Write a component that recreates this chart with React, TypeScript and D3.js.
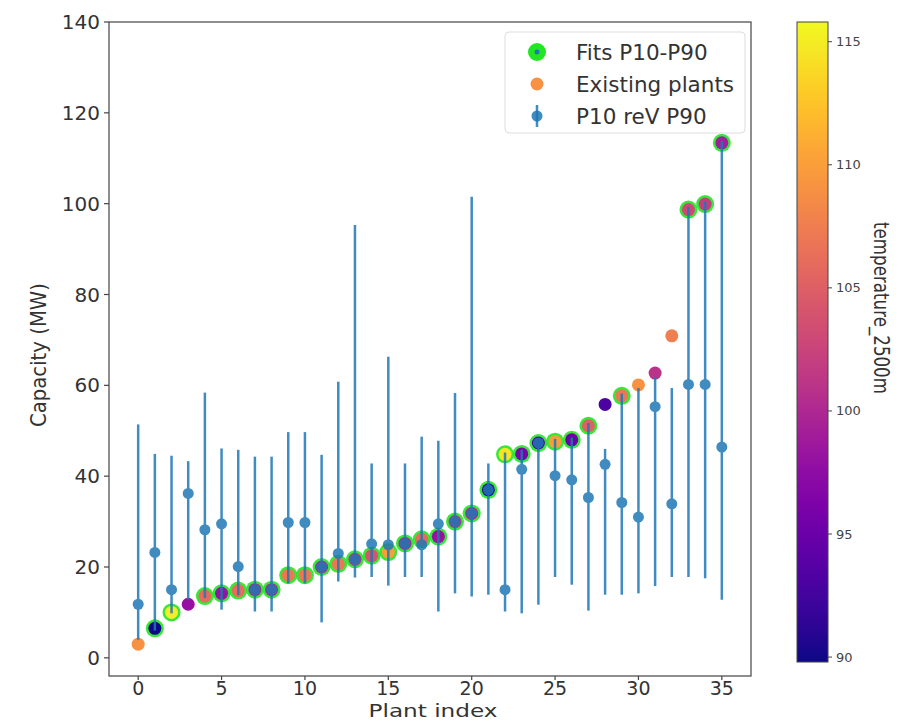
import React from "react";
import * as d3 from "d3";

// plant index 0..35, sorted by existing capacity
const existing = [3.0, 6.5, 10.0, 11.8, 13.6, 14.2, 14.8, 15.0, 15.0, 18.2, 18.2, 20.0, 20.7, 21.7, 22.5, 23.3, 25.2, 26.1, 26.7, 30.0, 31.8, 37.0, 44.8, 44.9, 47.3, 47.6, 48.0, 51.1, 55.8, 57.7, 60.1, 62.7, 70.9, 98.7, 99.9, 113.4];
const median = [11.8, 23.2, 15.0, 36.2, 28.2, 29.5, 20.1, 15.0, 15.0, 29.8, 29.8, 20.0, 23.0, 21.7, 25.1, 24.9, 25.2, 24.9, 29.5, 30.0, 31.8, 37.0, 15.0, 41.5, 47.3, 40.1, 39.2, 35.3, 42.6, 34.2, 31.0, 55.3, 33.9, 60.2, 60.2, 46.4];
const p10 = [4.0, 6.0, 9.8, 12.8, 13.2, 10.6, 13.8, 10.2, 10.2, 16.4, 16.4, 7.8, 16.8, 17.7, 17.8, 15.9, 17.8, 17.8, 10.2, 14.2, 13.5, 13.9, 10.2, 9.8, 11.7, 17.8, 16.1, 10.4, 13.9, 13.9, 14.2, 15.8, 17.8, 17.8, 17.5, 12.8];
const p90 = [51.4, 44.9, 44.5, 43.3, 58.4, 46.1, 45.8, 44.3, 44.3, 49.7, 49.7, 44.7, 60.8, 95.3, 42.8, 66.3, 42.8, 48.7, 47.8, 58.3, 101.5, 42.8, 45.2, 45.8, 48.4, 48.2, 48.5, 51.7, 46.0, 58.2, 59.4, 61.8, 59.4, 99.3, 100.5, 113.8];
const temperature = [109, 90, 115, 98, 106, 98, 106, 100, 100, 107, 107, 100, 107, 101, 104, 110, 100, 106, 98, 101, 100, 91, 114.5, 96, 93, 110, 95, 105, 93, 107, 109, 101, 107.5, 103, 102, 99];

const xTicks = [0, 5, 10, 15, 20, 25, 30, 35];
const yTicks = [0, 20, 40, 60, 80, 100, 120, 140];
const cbTicks = [90, 95, 100, 105, 110, 115];
const legendLabels = ["Fits P10-P90", "Existing plants", "P10 reV P90"];

const W = 912;
const H = 721;
const plot = { left: 109, right: 751, top: 22, bottom: 676 };
const cb = { left: 797, right: 828, top: 22, bottom: 662 };

const blue = "#1f77b4";
const green = "#22e622";
const font = "DejaVu Sans, sans-serif";

const x = d3.scaleLinear().domain([-1.75, 36.75]).range([plot.left, plot.right]);
const y = d3.scaleLinear().domain([-4, 140]).range([plot.bottom, plot.top]);
const cbScale = d3.scaleLinear().domain([89.8, 115.8]).range([cb.bottom, cb.top]);
const color = d3.scaleSequential(d3.interpolatePlasma).domain([89.8, 115.8]);

export default function App() {
  const idx = d3.range(existing.length);
  const fits = idx.filter((i) => existing[i] >= p10[i] && existing[i] <= p90[i]);
  const stops = d3.range(0, 1.0001, 0.05);

  return (
    <svg width={W} height={H} style={{ position: "absolute", left: 0, top: 0, background: "#fff" }} fontFamily={font}>
      <defs>
        <linearGradient id="cbgrad" x1="0" y1="1" x2="0" y2="0">
          {stops.map((t) => (
            <stop key={t} offset={t} stopColor={d3.interpolatePlasma(t)} />
          ))}
        </linearGradient>
      </defs>

      {/* fits P10-P90 */}
      {fits.map((i) => (
        <circle key={"g" + i} cx={x(i)} cy={y(existing[i])} r={9} fill={green} opacity={0.9} />
      ))}
      {/* existing plants */}
      {idx.map((i) => (
        <circle key={"e" + i} cx={x(i)} cy={y(existing[i])} r={6.5} fill={color(temperature[i])} />
      ))}
      {/* error bars */}
      <g opacity={0.85}>
        {idx.map((i) => (
          <g key={"b" + i}>
            <line x1={x(i)} x2={x(i)} y1={y(p10[i])} y2={y(p90[i])} stroke={blue} strokeWidth={2.5} />
            <circle cx={x(i)} cy={y(median[i])} r={5.5} fill={blue} />
          </g>
        ))}
      </g>

      {/* axes frame */}
      <rect x={plot.left} y={plot.top} width={plot.right - plot.left} height={plot.bottom - plot.top} fill="none" stroke="#444" strokeWidth={1.2} />
      {yTicks.map((t) => (
        <g key={"y" + t}>
          <line x1={plot.left - 5} x2={plot.left} y1={y(t)} y2={y(t)} stroke="#444" strokeWidth={1.2} />
          <text x={plot.left - 9} y={y(t)} dy="0.35em" textAnchor="end" fontSize={20} fill="#333">{t}</text>
        </g>
      ))}
      {xTicks.map((t) => (
        <g key={"x" + t}>
          <line x1={x(t)} x2={x(t)} y1={plot.bottom} y2={plot.bottom + 4} stroke="#444" strokeWidth={1.2} />
          <text x={x(t)} y={plot.bottom + 19} textAnchor="middle" fontSize={19} fill="#333">{t}</text>
        </g>
      ))}
      <text x={433} y={716.5} textAnchor="middle" fontSize={18} fill="#333" textLength={129} lengthAdjust="spacingAndGlyphs">Plant index</text>
      <text transform={`translate(46,355) rotate(-90)`} textAnchor="middle" fontSize={21} fill="#333" textLength={144} lengthAdjust="spacingAndGlyphs">Capacity (MW)</text>

      {/* legend */}
      <g>
        <rect x={505} y={32} width={240} height={101} rx={4} fill="#fff" fillOpacity={0.8} stroke="#ddd" />
        <circle cx={537} cy={52} r={9} fill={green} />
        <circle cx={537} cy={52} r={2.5} fill={blue} />
        <circle cx={537} cy={84} r={6.5} fill={color(temperature[0])} />
        <line x1={537} x2={537} y1={105} y2={127} stroke={blue} strokeWidth={2.5} opacity={0.85} />
        <circle cx={537} cy={116} r={5.5} fill={blue} opacity={0.85} />
        {legendLabels.map((l, k) => (
          <text key={l} x={576} y={52 + k * 32} dy="0.35em" fontSize={21.5} fill="#333">{l}</text>
        ))}
      </g>

      {/* colorbar */}
      <rect x={cb.left} y={cb.top} width={cb.right - cb.left} height={cb.bottom - cb.top} fill="url(#cbgrad)" stroke="#444" strokeWidth={1} />
      {cbTicks.map((t) => (
        <g key={"c" + t}>
          <line x1={cb.right} x2={cb.right + 4} y1={cbScale(t)} y2={cbScale(t)} stroke="#444" />
          <text x={cb.right + 8} y={cbScale(t)} dy="0.35em" fontSize={13} fill="#444">{t}</text>
        </g>
      ))}
      <text transform={`translate(874,308) rotate(90)`} textAnchor="middle" fontSize={22} fill="#333" textLength={172} lengthAdjust="spacingAndGlyphs">temperature_2500m</text>
    </svg>
  );
}
